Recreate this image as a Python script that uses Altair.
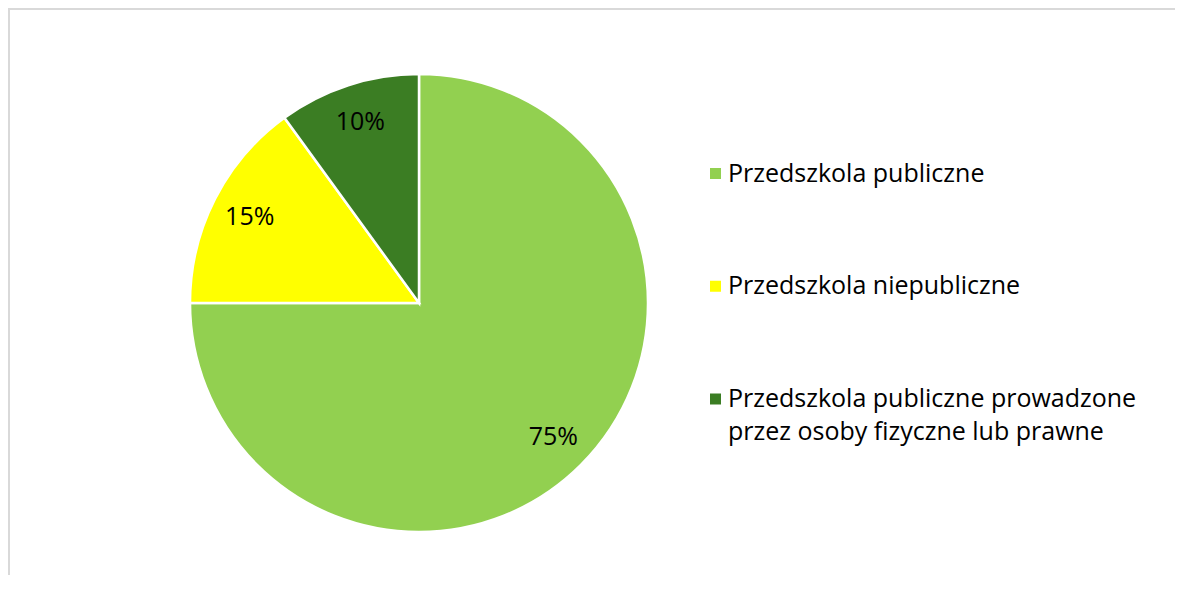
import altair as alt
import pandas as pd

categories = [
    "Przedszkola publiczne",
    "Przedszkola niepubliczne",
    "Przedszkola publiczne prowadzone przez osoby fizyczne lub prawne",
]
shares = [75, 15, 10]
labels = ["75%", "15%", "10%"]
colors = ["#92D050", "#FFFF00", "#3B7D23"]
order = [1, 2, 3]
legend_line1 = ["Przedszkola publiczne", "Przedszkola niepubliczne", "Przedszkola publiczne prowadzone"]
legend_line2 = ["", "", "przez osoby fizyczne lub prawne"]

df = pd.DataFrame({"kat": categories, "val": shares, "lab": labels, "ord": order})
leg = pd.DataFrame({"kat": categories, "l1": legend_line1, "l2": legend_line2})

W, H = 1167, 567
CX, CY, R = 411, 295, 229
FONT = "Open Sans"
FS = 25

color_scale = alt.Scale(domain=categories, range=colors)

base = alt.Chart(df).encode(
    theta=alt.Theta("val:Q", stack=True),
    order=alt.Order("ord:Q"),
)

pie = base.mark_arc(radius=R, stroke="white", strokeWidth=2.5).encode(
    x=alt.value(CX),
    y=alt.value(CY),
    color=alt.Color("kat:N", scale=color_scale, legend=None),
)

text = base.mark_text(radius=190, font=FONT, fontSize=FS, color="#000000").encode(
    x=alt.value(CX),
    y=alt.value(CY),
    text="lab:N",
)

leg_y = alt.Y(
    "kat:N",
    scale=alt.Scale(type="point", padding=0, domain=categories, range=[165.5, 391]),
    axis=None,
)

leg_sym = alt.Chart(leg).mark_square(size=121, opacity=1).encode(
    x=alt.value(707.5),
    y=leg_y,
    color=alt.Color("kat:N", scale=color_scale, legend=None),
)
leg_t1 = alt.Chart(leg).mark_text(
    align="left", baseline="middle", font=FONT, fontSize=FS, color="#000000"
).encode(x=alt.value(720), y=leg_y, text="l1:N")
leg_t2 = alt.Chart(leg).transform_filter("datum.l2 != ''").mark_text(
    align="left", baseline="middle", font=FONT, fontSize=FS, color="#000000", dy=33
).encode(x=alt.value(720), y=leg_y, text="l2:N")

frame_top = alt.Chart(df).mark_rule(color="#d9d9d9", strokeWidth=2).encode(
    x=alt.value(0), x2=alt.value(W + 20), y=alt.value(1)
)
frame_left = alt.Chart(df).mark_rule(color="#d9d9d9", strokeWidth=2).encode(
    x=alt.value(1), y=alt.value(0), y2=alt.value(H + 20)
)

chart = (
    alt.layer(frame_top, frame_left, pie, text, leg_sym, leg_t1, leg_t2)
    .resolve_scale(y="independent")
    .properties(
        width=W,
        height=H,
        padding=0,
        autosize=alt.AutoSizeParams(type="none"),
    )
    .configure_view(stroke=None)
)

chart.save("out.html", embed_options={"renderer": "svg", "actions": False})
